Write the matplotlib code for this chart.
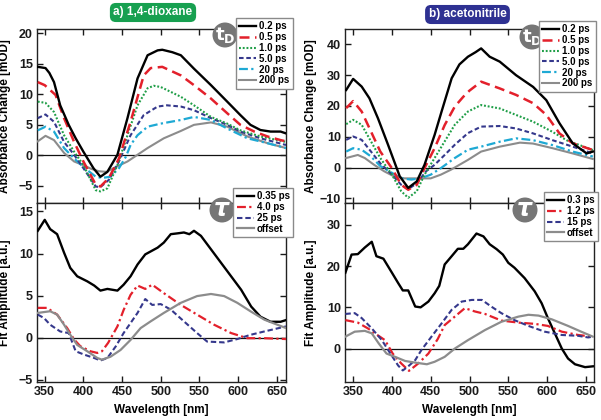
import matplotlib
matplotlib.use("Agg")
import matplotlib.pyplot as plt
from matplotlib.patches import Circle

plt.rcParams['font.family'] = ['Liberation Sans', 'DejaVu Sans']
plt.rcParams['font.weight'] = 'bold'

# ---------------- data ----------------
# a) 1,4-dioxane, transient spectra
dx_ta_labels = ["0.2 ps", "0.5 ps", "1.0 ps", "5.0 ps", "20 ps", "200 ps"]
dx_wl_02 = [341, 351, 356, 362, 370, 381, 390, 400, 413, 422, 431, 444, 457, 470, 483, 496, 502, 515, 526, 543, 565, 586, 603, 616, 629, 642, 655, 662]
dx_ta_02 = [14.5, 14.3, 13.5, 12.0, 8.2, 5.0, 2.8, 0.6, -2.1, -3.5, -2.7, 0.1, 6.1, 12.6, 16.4, 17.2, 17.3, 16.9, 16.4, 14.2, 11.5, 8.8, 6.6, 5.0, 4.15, 3.9, 3.9, 3.6]
dx_wl_05 = [341, 350, 364, 375, 388, 400, 416, 422, 433, 446, 461, 478, 487, 502, 526, 543, 565, 586, 603, 621, 638, 655, 662]
dx_ta_05 = [12.0, 11.5, 9.9, 6.1, 2.2, -1.0, -4.8, -5.1, -3.7, -0.5, 5.5, 13.1, 14.3, 14.5, 13.1, 11.5, 9.3, 6.9, 5.0, 3.9, 3.1, 2.5, 2.3]
dx_wl_1 = [341, 351, 362, 375, 388, 400, 416, 422, 431, 444, 457, 470, 483, 491, 500, 526, 543, 565, 586, 603, 629, 662]
dx_ta_1 = [8.8, 8.6, 7.1, 3.3, 0.6, -1.6, -5.7, -5.9, -5.4, -1.6, 3.3, 8.2, 11.0, 11.4, 11.2, 9.6, 8.2, 6.3, 5.2, 4.1, 3.1, 2.2]
dx_wl_5 = [341, 351, 362, 375, 388, 400, 416, 422, 433, 446, 461, 478, 496, 508, 526, 543, 565, 586, 603, 629, 662]
dx_ta_5 = [6.1, 6.7, 5.5, 2.2, 0.1, -2.1, -5.1, -5.2, -4.0, -1.0, 3.3, 6.6, 8.0, 8.2, 8.0, 7.4, 6.1, 5.0, 3.9, 2.8, 1.7]
dx_wl_20 = [341, 351, 362, 375, 388, 400, 416, 424, 435, 446, 455, 461, 470, 483, 500, 526, 543, 565, 586, 612, 638, 662]
dx_ta_20 = [4.1, 4.7, 3.9, 1.2, -0.5, -1.9, -3.5, -3.7, -3.5, -2.1, -0.2, 1.7, 3.3, 4.7, 5.2, 5.8, 6.3, 5.8, 4.4, 2.8, 2.0, 1.2]
dx_wl_200 = [341, 351, 362, 375, 388, 400, 410, 420, 430, 442, 457, 470, 483, 504, 526, 543, 565, 586, 612, 638, 662]
dx_ta_200 = [2.3, 3.2, 2.5, 0.4, -1.0, -1.6, -2.2, -2.6, -2.7, -1.9, -1.0, 0.1, 1.2, 2.8, 4.0, 5.0, 5.4, 4.7, 3.1, 2.0, 1.2]

# a) 1,4-dioxane, fit amplitudes
dx_fit_labels = ["0.35 ps", "4.0 ps", "25 ps", "offset"]
dx_wl_f035 = [341, 350, 357, 366, 375, 383, 392, 405, 414, 422, 431, 444, 452, 461, 470, 480, 496, 504, 513, 522, 530, 537, 543, 552, 565, 578, 591, 604, 617, 629, 642, 655, 662]
dx_fit_035 = [12.7, 14.0, 12.9, 12.3, 10.1, 8.3, 7.3, 6.7, 6.2, 5.6, 5.8, 5.6, 6.3, 7.3, 8.7, 9.9, 10.7, 11.3, 12.3, 12.4, 12.5, 12.3, 12.7, 12.1, 10.5, 8.9, 7.3, 5.7, 3.7, 2.5, 1.9, 1.9, 2.1]
dx_wl_f4 = [341, 353, 366, 379, 388, 396, 409, 418, 424, 432, 444, 452, 461, 470, 480, 489, 504, 526, 547, 569, 591, 612, 634, 662]
dx_fit_4 = [3.55, 3.55, 2.75, 1.15, -0.2, -1.0, -1.6, -1.8, -1.6, -0.6, 1.35, 3.3, 5.1, 6.2, 5.8, 6.3, 5.3, 3.9, 2.75, 1.55, 0.56, -0.05, -0.05, -0.15]
dx_wl_f25 = [341, 349, 357, 370, 381, 390, 401, 414, 422, 431, 442, 452, 461, 470, 480, 489, 500, 513, 530, 547, 560, 582, 599, 616, 634, 662]
dx_fit_25 = [2.75, 2.35, 1.55, 0.75, 0.56, -1.6, -2.0, -2.4, -2.7, -2.4, -1.0, 0.56, 1.75, 2.95, 4.6, 3.9, 4.0, 3.35, 1.95, 0.56, -0.45, -0.55, -0.15, 0.35, 0.75, 1.35]
dx_wl_foff = [341, 357, 366, 375, 383, 392, 405, 418, 424, 435, 448, 461, 474, 487, 504, 526, 547, 565, 582, 599, 616, 634, 662]
dx_fit_off = [2.95, 3.15, 2.75, 1.55, 0.36, -0.85, -1.6, -2.4, -2.6, -2.25, -1.45, -0.25, 1.15, 1.95, 2.95, 4.15, 4.95, 5.2, 4.95, 4.15, 3.15, 2.15, 1.15]

# b) acetonitrile, transient spectra
ac_ta_labels = ["0.2 ps", "0.5 ps", "1.0 ps", "5.0 ps", "20 ps", "200 ps"]
ac_wl_02 = [341, 350, 361, 371, 382, 395, 410, 421, 432, 442, 455, 464, 477, 487, 498, 508, 515, 526, 539, 560, 582, 599, 616, 633, 651, 659]
ac_ta_02 = [25.2, 28.8, 26.3, 22.5, 16.0, 7.4, -2.8, -6.6, -4.5, 0.9, 10.6, 18.2, 29.0, 33.5, 36.0, 37.5, 38.7, 36.0, 34.4, 30.0, 26.2, 21.9, 14.4, 7.9, 4.6, 5.2]
ac_wl_05 = [341, 350, 361, 373, 385, 400, 412, 421, 432, 442, 455, 468, 481, 492, 500, 515, 539, 560, 582, 599, 616, 633, 659]
ac_ta_05 = [19.3, 21.6, 18.2, 11.7, 5.2, -0.2, -5.6, -7.2, -5.6, -0.2, 6.3, 13.8, 19.8, 23.0, 25.0, 27.9, 25.7, 23.6, 20.9, 17.1, 11.1, 7.9, 5.7]
ac_wl_1 = [341, 350, 361, 373, 385, 400, 412, 421, 432, 442, 455, 468, 481, 498, 515, 539, 560, 582, 607, 625, 659]
ac_ta_1 = [14.1, 15.5, 13.9, 8.5, 3.1, -2.3, -7.7, -9.8, -7.7, -2.3, 3.1, 8.5, 13.9, 18.2, 20.3, 19.2, 17.1, 14.9, 11.6, 8.9, 5.7]
ac_wl_5 = [341, 350, 361, 373, 385, 400, 412, 421, 432, 444, 455, 468, 481, 498, 515, 539, 560, 582, 607, 633, 659]
ac_ta_5 = [9.0, 10.1, 9.0, 5.2, 1.4, -2.3, -5.6, -7.0, -5.1, -1.2, 0.9, 4.1, 7.4, 11.2, 13.3, 13.5, 12.7, 11.1, 8.9, 6.8, 4.6]
ac_wl_20 = [341, 350, 361, 373, 385, 400, 412, 425, 437, 450, 463, 481, 498, 515, 539, 560, 582, 607, 633, 659]
ac_ta_20 = [5.2, 6.3, 5.8, 3.6, 0.5, -1.7, -3.5, -3.9, -3.5, -2.3, -0.2, 3.1, 5.8, 6.8, 8.4, 9.5, 8.9, 7.3, 5.2, 3.6]
ac_wl_200 = [341, 356, 365, 377, 390, 403, 416, 433, 450, 463, 476, 498, 515, 539, 565, 582, 607, 633, 659]
ac_ta_200 = [3.1, 4.1, 3.1, 0.9, -1.2, -2.9, -3.5, -3.5, -3.5, -2.3, -0.7, 2.5, 5.2, 6.8, 8.1, 7.8, 6.3, 4.6, 2.8]

# b) acetonitrile, fit amplitudes
ac_fit_labels = ["0.3 ps", "1.2 ps", "15 ps", "offset"]
ac_wl_f03 = [340, 348, 356, 365, 374, 380, 389, 400, 408, 414, 421, 430, 437, 447, 455, 461, 468, 477, 485, 492, 498, 509, 518, 526, 535, 543, 550, 558, 571, 584, 593, 601, 610, 619, 627, 636, 649, 659]
ac_fit_03 = [18.4, 22.8, 22.9, 24.5, 25.9, 22.4, 21.8, 18.4, 15.9, 14.1, 14.1, 10.2, 10.0, 11.4, 13.4, 15.2, 20.4, 22.4, 24.2, 24.2, 25.3, 27.9, 27.2, 25.3, 24.1, 22.8, 20.8, 19.6, 17.1, 13.9, 11.0, 7.4, 3.7, 0.0, -2.4, -3.8, -4.5, -4.3]
ac_wl_f12 = [340, 356, 369, 378, 391, 401, 412, 422, 434, 447, 459, 468, 481, 494, 507, 520, 541, 563, 584, 601, 619, 640, 659]
ac_fit_12 = [6.9, 6.3, 4.9, 3.7, 2.05, -1.2, -3.6, -5.4, -3.6, -1.2, 2.3, 5.7, 7.75, 9.8, 9.0, 8.4, 6.8, 6.3, 6.0, 5.5, 4.1, 3.3, 2.9]
ac_wl_f15 = [340, 352, 361, 374, 387, 398, 408, 414, 421, 430, 438, 451, 464, 477, 490, 503, 516, 528, 541, 558, 576, 597, 619, 640, 653, 659]
ac_fit_15 = [8.4, 8.6, 7.4, 4.9, 2.05, -1.2, -4.1, -5.3, -4.3, -2.8, -0.35, 2.9, 6.1, 9.4, 11.4, 11.8, 11.8, 10.2, 8.6, 6.9, 5.5, 4.1, 3.3, 3.1, 2.7, 2.9]
ac_wl_foff = [340, 352, 365, 374, 383, 393, 404, 417, 430, 445, 455, 468, 481, 498, 520, 541, 563, 576, 589, 606, 627, 644, 659]
ac_fit_off = [2.9, 4.1, 4.3, 3.7, 1.25, -1.2, -2.0, -3.0, -3.4, -3.8, -3.2, -2.0, 0.0, 2.05, 4.5, 6.5, 7.75, 8.2, 8.0, 7.1, 5.5, 4.1, 2.9]

xticks = [350, 400, 450, 500, 550, 600, 650]

# ---------------- styles ----------------
C_BLACK = '#000000'
C_RED = '#e3202b'
C_GREEN = '#1f9e47'
C_NAVY = '#35388c'
C_CYAN = '#1ea9d4'
C_GRAY = '#8c8c8c'

ta_styles = [
    dict(color=C_BLACK, lw=1.7, ls='-'),
    dict(color=C_RED, lw=1.8, ls=(0, (4, 2.2))),
    dict(color=C_GREEN, lw=1.5, ls=(0, (0.9, 0.9))),
    dict(color=C_NAVY, lw=1.5, ls=(0, (2.2, 1.3))),
    dict(color=C_CYAN, lw=1.6, ls=(0, (4, 1.5, 1, 1.5))),
    dict(color=C_GRAY, lw=1.5, ls='-'),
]
fit_styles = [
    dict(color=C_BLACK, lw=1.7, ls='-'),
    dict(color=C_RED, lw=1.6, ls=(0, (4, 1.5, 1, 1.5))),
    dict(color=C_NAVY, lw=1.5, ls=(0, (2.6, 1.4))),
    dict(color=C_GRAY, lw=1.6, ls='-'),
]

W, H = 601, 420
fig = plt.figure(figsize=(W / 100, H / 100), dpi=100)


def add_axes_px(x0, x1, ytop, ybot):
    return fig.add_axes([x0 / W, (H - ybot) / H, (x1 - x0) / W, (ybot - ytop) / H])


ax_tl = add_axes_px(37, 286, 29, 203)
ax_bl = add_axes_px(37, 286, 203, 382)
ax_tr = add_axes_px(345, 594, 29, 203)
ax_br = add_axes_px(345, 594, 203, 382)


def style_axis(ax, xlim, ylim, yticks, show_x):
    ax.set_xlim(*xlim)
    ax.set_ylim(*ylim)
    ax.set_xticks(xticks)
    ax.set_yticks(yticks)
    ax.axhline(0, color='#111111', lw=0.9, zorder=1)
    ax.tick_params(direction='in', top=True, right=True, length=4, width=1,
                   labelsize=9, pad=3, colors='#1a1a1a')
    for lab in ax.get_xticklabels() + ax.get_yticklabels():
        lab.set_fontweight('bold')
    if not show_x:
        ax.tick_params(labelbottom=False)
    for s in ax.spines.values():
        s.set_linewidth(1.0)
        s.set_color('#222222')


def badge(ax, cx, cy, txt, fs):
    c = Circle((cx / 100, (H - cy) / 100), 0.125, transform=fig.dpi_scale_trans,
               facecolor='#767676', edgecolor='none', zorder=6, clip_on=False)
    ax.add_patch(c)
    ax.text(cx / 100, (H - cy) / 100, txt, transform=fig.dpi_scale_trans,
            color='white', fontsize=fs, ha='center', va='center', zorder=6.5,
            clip_on=False)


def make_legend(ax, handles, labels, bx, by):
    leg = ax.legend(handles, labels, loc='upper right', bbox_to_anchor=(bx, by),
                    frameon=True, fancybox=False, edgecolor='#8a8a8a',
                    framealpha=1, borderaxespad=0, borderpad=0.35,
                    labelspacing=0.08, handlelength=1.75, handletextpad=0.3,
                    prop=dict(size=7, weight='bold'))
    leg.get_frame().set_linewidth(1.0)
    leg.set_zorder(10)
    return leg


def set_ylab(ax, text, xpos):
    ax.set_ylabel(text, fontsize=8.5, fontweight='bold')
    ax.yaxis.set_label_coords(xpos, 0.5)


# ---- a) top ----
dx_ta = [(dx_wl_02, dx_ta_02), (dx_wl_05, dx_ta_05), (dx_wl_1, dx_ta_1),
         (dx_wl_5, dx_ta_5), (dx_wl_20, dx_ta_20), (dx_wl_200, dx_ta_200)]
handles = []
for (wl, v), st, lab in zip(dx_ta[::-1], ta_styles[::-1], dx_ta_labels[::-1]):
    ln, = ax_tl.plot(wl, v, label=lab, zorder=3, **st)
    handles.append(ln)
style_axis(ax_tl, (340, 662), (-7.8, 20.7), [-5, 0, 5, 10, 15, 20], False)
set_ylab(ax_tl, 'Absorbance Change [mOD]', -0.104)
badge(ax_tl, 225, 35, r'$\mathbf{t_D}$', 13)
make_legend(ax_tl, handles[::-1], dx_ta_labels, 1.028, 1.063)

# ---- a) bottom ----
dx_fit = [(dx_wl_f035, dx_fit_035), (dx_wl_f4, dx_fit_4), (dx_wl_f25, dx_fit_25),
          (dx_wl_foff, dx_fit_off)]
handles = []
for (wl, v), st, lab in zip(dx_fit, fit_styles, dx_fit_labels):
    ln, = ax_bl.plot(wl, v, label=lab, zorder=3, **st)
    handles.append(ln)
style_axis(ax_bl, (340, 662), (-5.25, 16), [-5, 0, 5, 10, 15], True)
set_ylab(ax_bl, 'Fit Amplitude [a.u.]', -0.104)
ax_bl.set_xlabel('Wavelength [nm]', fontsize=8.5, fontweight='bold', labelpad=4)
badge(ax_bl, 222, 210, r'$\tau$', 17)
make_legend(ax_bl, handles, dx_fit_labels, 1.028, 1.084)

# ---- b) top ----
ac_ta = [(ac_wl_02, ac_ta_02), (ac_wl_05, ac_ta_05), (ac_wl_1, ac_ta_1),
         (ac_wl_5, ac_ta_5), (ac_wl_20, ac_ta_20), (ac_wl_200, ac_ta_200)]
handles = []
for (wl, v), st, lab in zip(ac_ta[::-1], ta_styles[::-1], ac_ta_labels[::-1]):
    ln, = ax_tr.plot(wl, v, label=lab, zorder=3, **st)
    handles.append(ln)
style_axis(ax_tr, (339.5, 660.5), (-11.5, 45), [-10, 0, 10, 20, 30, 40], False)
set_ylab(ax_tr, 'Absorbance Change [mOD]', -0.112)
badge(ax_tr, 532, 37, r'$\mathbf{t_D}$', 13)
make_legend(ax_tr, handles[::-1], ac_ta_labels, 1.008, 1.046)

# ---- b) bottom ----
ac_fit = [(ac_wl_f03, ac_fit_03), (ac_wl_f12, ac_fit_12), (ac_wl_f15, ac_fit_15),
          (ac_wl_foff, ac_fit_off)]
handles = []
for (wl, v), st, lab in zip(ac_fit, fit_styles, ac_fit_labels):
    ln, = ax_br.plot(wl, v, label=lab, zorder=3, **st)
    handles.append(ln)
style_axis(ax_br, (339.5, 660.5), (-8.1, 35.3), [0, 10, 20, 30], True)
set_ylab(ax_br, 'Fit Amplitude [a.u.]', -0.112)
ax_br.set_xlabel('Wavelength [nm]', fontsize=8.5, fontweight='bold', labelpad=4)
badge(ax_br, 525, 210, r'$\tau$', 17)
make_legend(ax_br, handles, ac_fit_labels, 1.016, 1.061)

# ---- titles ----
fig.text(153 / W, 1 - 12.5 / H, 'a) 1,4-dioxane', ha='center', va='center',
         color='white', fontsize=8.5, fontweight='bold',
         bbox=dict(boxstyle='round,pad=0.3,rounding_size=0.5', facecolor='#17a050',
                   edgecolor='none'))
fig.text(467.5 / W, 1 - 14.5 / H, 'b) acetonitrile', ha='center', va='center',
         color='white', fontsize=8.5, fontweight='bold',
         bbox=dict(boxstyle='round,pad=0.3,rounding_size=0.5', facecolor='#2e3192',
                   edgecolor='none'))

fig.savefig('out.png', dpi=100)
